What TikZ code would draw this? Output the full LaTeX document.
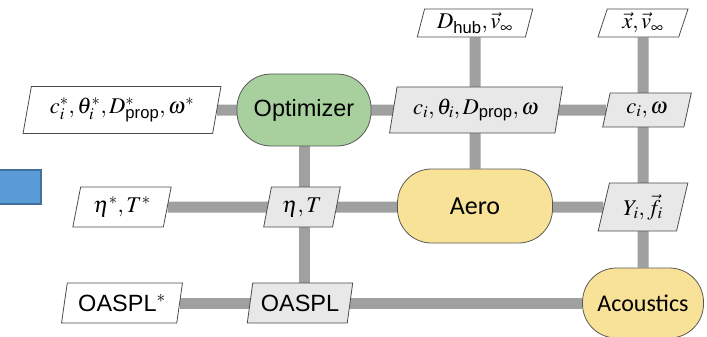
\documentclass[tikz,border=0pt]{standalone}
\usepackage{amsmath}
\usepackage{mathptmx}
\usepackage[no-math]{fontspec}
\setmainfont{Liberation Sans}
\setsansfont{Liberation Sans}
\newfontfamily\calibri{Carlito}
\usetikzlibrary{shapes.geometric, backgrounds}
\definecolor{optgreen}{RGB}{168,208,158}
\definecolor{anayellow}{RGB}{247,226,152}
\definecolor{boxgray}{RGB}{232,232,232}
\definecolor{conngray}{RGB}{160,160,160}
\definecolor{slideblue}{RGB}{91,155,213}
\definecolor{slideblueline}{RGB}{65,113,156}

\begin{document}
\begin{tikzpicture}[x=1pt, y=-1pt,
    every node/.style={font=\fontsize{23.5}{28}\selectfont},
    mathtext/.style={font=\fontsize{22.5}{27}\selectfont},
    inputbox/.style={trapezium, trapezium left angle=76, trapezium right angle=104,
        trapezium stretches=true, draw=black!70, fill=white, line width=0.8pt, inner sep=1pt},
    databox/.style={inputbox, fill=boxgray},
    compbox/.style={rectangle, rounded corners=34pt, draw=black!65, line width=0.8pt, inner sep=2pt},
    conn/.style={conngray, line width=11pt}]

\useasboundingbox (0,0) rectangle (707,337);

% --- Slide marker ---
\node[rectangle, fill=slideblue, draw=slideblueline, line width=2pt,
      minimum width=44pt, minimum height=34pt, inner sep=0pt] (marker) at (19,187) {};

% --- Row 0: global inputs ---
\node[inputbox, mathtext, minimum width=116pt, minimum height=28pt] (dhub) at (475,23)
    {$D_{\textsf{hub}}, \vec{v}_\infty$};
\node[inputbox, mathtext, minimum width=90pt, minimum height=28pt] (xv) at (643,23)
    {$\vec{x}, \vec{v}_\infty$};

% --- Row 1: optimizer ---
\node[inputbox, mathtext, minimum width=198pt, minimum height=47pt] (dvstar) at (122,110)
    {$c_i^*, \theta_i^*, D_{\textsf{prop}}^*, \omega^*$};
\node[compbox, fill=optgreen, minimum width=134pt, minimum height=72pt] (opt) at (304,110)
    {Optimizer};
\node[databox, mathtext, minimum width=173pt, minimum height=46pt] (dv) at (476,110)
    {$c_i, \theta_i, D_{\textsf{prop}}, \omega$};
\node[databox, mathtext, minimum width=89pt, minimum height=34pt] (cw) at (647,110)
    {$c_i, \omega$};

% --- Row 2: aerodynamics ---
\node[inputbox, mathtext, minimum width=99pt, minimum height=40pt] (etastar) at (122,207)
    {$\eta^*, T^*$};
\node[databox, mathtext, minimum width=77pt, minimum height=40pt] (eta) at (302,207)
    {$\eta, T$};
\node[compbox, fill=anayellow, minimum width=155pt, minimum height=74pt, font=\calibri\fontsize{26}{31}\selectfont] (aero) at (475,206)
    {Aero};
\node[databox, mathtext, minimum width=90pt, minimum height=48pt] (yf) at (643,207)
    {$Y_i, \vec{f}_i$};

% --- Row 3: acoustics ---
\node[inputbox, minimum width=121pt, minimum height=40pt] (splstar) at (122,303)
    {OASPL$^*$};
\node[databox, minimum width=106pt, minimum height=40pt] (spl) at (300,303)
    {OASPL};
\node[compbox, fill=anayellow, minimum width=121pt, minimum height=70pt, font=\calibri\fontsize{24}{29}\selectfont] (acou) at (643,303)
    {Acoustics};

% --- Connectors ---
\begin{scope}[on background layer]
\draw[conn] (dvstar) -- (cw);
\draw[conn] (etastar) -- (yf);
\draw[conn] (splstar) -- (acou);
\draw[conn] (opt) -- (spl.center -| opt);
\draw[conn] (dhub) -- (aero);
\draw[conn] (xv) -- (acou);
\end{scope}

\end{tikzpicture}
\end{document}
